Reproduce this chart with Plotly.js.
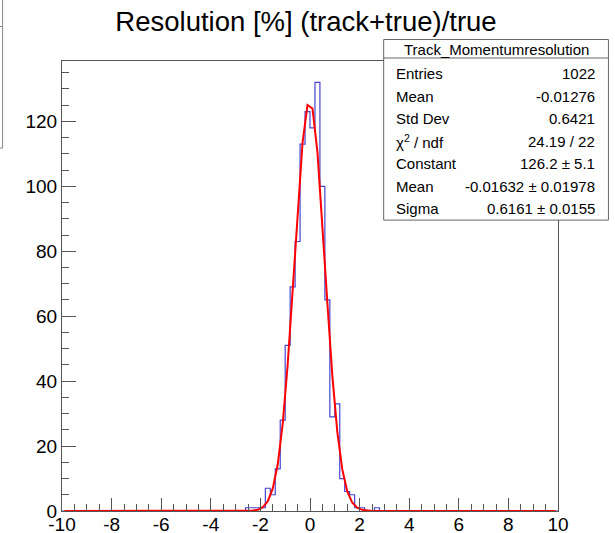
<!DOCTYPE html>
<html>
<head>
<meta charset="utf-8">
<script src="https://cdn.plot.ly/plotly-3.0.1.min.js"></script>
<style>html,body{margin:0;padding:0;background:#fff;}#chart{width:615px;height:533px;}</style>
</head>
<body>
<div id="chart"></div>
<script>
// ---- data ----
const binLow = [-2.6,-2.4,-2.2,-2.0,-1.8,-1.6,-1.4,-1.2,-1.0,-0.8,-0.6,-0.4,-0.2,0.0,0.2,0.4,0.6,0.8,1.0,1.2,1.4,1.6,1.8,2.0,2.2,2.4,2.6];
const binCounts = [1,1,1,1,7,5,13,28,51,69,83,113,123,118,132,100,65,29,33,10,6,5,1,1,0,0,1];
const binWidth = 0.2;
const histRange = [-10, 10];

const fitX = [-9.9,-2.7,-2.5,-2.3,-2.1,-1.9,-1.7,-1.5,-1.3,-1.1,-0.9,-0.7,-0.5,-0.3,-0.1,0.1,0.3,0.5,0.7,0.9,1.1,1.3,1.5,1.7,1.9,2.1,2.3,2.5,2.7,9.9];
const fitY = [0,0.01,0.04,0.13,0.41,1.18,3.02,6.95,14.40,26.87,45.12,68.19,92.73,113.50,125.04,123.97,110.61,88.83,64.20,41.76,24.45,12.88,6.11,2.61,1.00,0.35,0.11,0.03,0.01,0];

const xTickVals = [-10,-8,-6,-4,-2,0,2,4,6,8,10];
const xTickText = ['-10','-8','-6','-4','-2','0','2','4','6','8','10'];
const yTickVals = [0,20,40,60,80,100,120];
const yTickText = ['0','20','40','60','80','100','120'];

const chartTitle = 'Resolution [%] (track+true)/true';
const statsTitle = 'Track_Momentumresolution';
const statsLabels = ['Entries','Mean','Std Dev','\u03c7<sup>2</sup> / ndf','Constant','Mean','Sigma'];
const statsValues = ['1022','-0.01276','0.6421','24.19 / 22','126.2 \u00b1 5.1','-0.01632 \u00b1 0.01978','0.6161 \u00b1 0.0155'];

// ---- build step outline of the histogram ----
const hx = [histRange[0]], hy = [0];
for (let i = 0; i < binLow.length; i++) { hx.push(binLow[i]); hy.push(binCounts[i]); }
hx.push(binLow[binLow.length-1] + binWidth); hy.push(0);
hx.push(histRange[1]); hy.push(0);

// ---- pixel helpers ----
const W = 615, H = 533;
const L = 62, R = 558.5, T = 61, B = 510.7;
const px = x => (x - L) / (R - L);
const py = y => (B - y) / (B - T);

const font = 'Liberation Sans, Arial, Helvetica, sans-serif';
const frameColor = '#555';

const traces = [
  {x: hx, y: hy, type: 'scatter', mode: 'lines', line: {shape: 'hv', color: '#4646d2', width: 1.2}, hoverinfo: 'skip'},
  {x: fitX, y: fitY, type: 'scatter', mode: 'lines', line: {color: '#ff0000', width: 2}, hoverinfo: 'skip'}
];

const boxL = 384, boxR = 609, boxT = 39.5, boxB = 220, sepY = 58;
const rowY = [73.5, 96, 118.5, 141, 163.5, 186, 208.5];

const shapes = [
  {type: 'rect', xref: 'paper', yref: 'paper', x0: px(boxL), x1: px(boxR), y0: py(boxB), y1: py(boxT),
   line: {color: '#666', width: 1}, fillcolor: '#fff', layer: 'above'},
  {type: 'line', xref: 'paper', yref: 'paper', x0: px(boxL), x1: px(boxR), y0: py(sepY), y1: py(sepY),
   line: {color: '#666', width: 1}, layer: 'above'},
  // remnant of a neighbouring box at the top-left edge
  {type: 'line', xref: 'paper', yref: 'paper', x0: px(2.5), x1: px(2.5), y0: py(148), y1: py(-2),
   line: {color: '#888', width: 1}, layer: 'above'},
  {type: 'line', xref: 'paper', yref: 'paper', x0: px(-3), x1: px(2.5), y0: py(26.5), y1: py(26.5),
   line: {color: '#888', width: 1}, layer: 'above'},
  {type: 'line', xref: 'paper', yref: 'paper', x0: px(-3), x1: px(2.5), y0: py(148), y1: py(148),
   line: {color: '#888', width: 1}, layer: 'above'}
];

const annotations = [
  {xref: 'paper', yref: 'paper', x: px((boxL + boxR) / 2), y: py(49.5), text: statsTitle, showarrow: false,
   xanchor: 'center', yanchor: 'middle', font: {family: font, size: 15, color: '#000'}}
];
for (let i = 0; i < statsLabels.length; i++) {
  annotations.push({xref: 'paper', yref: 'paper', x: px(394), y: py(rowY[i]), text: statsLabels[i], showarrow: false,
    xanchor: 'left', yanchor: 'middle', font: {family: font, size: 15, color: '#000'}});
  annotations.push({xref: 'paper', yref: 'paper', x: px(598), y: py(rowY[i]), text: statsValues[i], showarrow: false,
    xanchor: 'right', yanchor: 'middle', font: {family: font, size: 15, color: '#000'}});
}

const layout = {
  width: W, height: H,
  margin: {l: L, r: W - R, t: T, b: H - B, pad: 0},
  paper_bgcolor: '#fff', plot_bgcolor: '#fff',
  showlegend: false,
  title: {text: chartTitle, xref: 'container', yref: 'container', x: 306 / W, y: 1 - 21 / H,
          xanchor: 'center', yanchor: 'middle', font: {family: font, size: 27.5, color: '#000'}},
  xaxis: {range: histRange, tickmode: 'array', tickvals: xTickVals, ticktext: xTickText,
          ticks: 'inside', ticklen: 13, tickcolor: frameColor, tickwidth: 1, ticklabelstandoff: -4,
          minor: {tickmode: 'linear', tick0: 0, dtick: 0.5, ticks: 'inside', ticklen: 7, tickcolor: frameColor, tickwidth: 1},
          showline: true, mirror: true, linecolor: frameColor, linewidth: 1,
          showgrid: false, zeroline: false, fixedrange: true,
          tickfont: {family: font, size: 19, color: '#000'}},
  yaxis: {range: [0, 138.6], tickmode: 'array', tickvals: yTickVals, ticktext: yTickText,
          ticks: 'inside', ticklen: 14, tickcolor: frameColor, tickwidth: 1,
          minor: {tickmode: 'linear', tick0: 0, dtick: 5, ticks: 'inside', ticklen: 7, tickcolor: frameColor, tickwidth: 1},
          showline: true, mirror: true, linecolor: frameColor, linewidth: 1,
          showgrid: false, zeroline: false, fixedrange: true,
          tickfont: {family: font, size: 19, color: '#000'}},
  shapes: shapes,
  annotations: annotations
};

Plotly.newPlot('chart', traces, layout, {displayModeBar: false, staticPlot: true});
</script>
</body>
</html>
